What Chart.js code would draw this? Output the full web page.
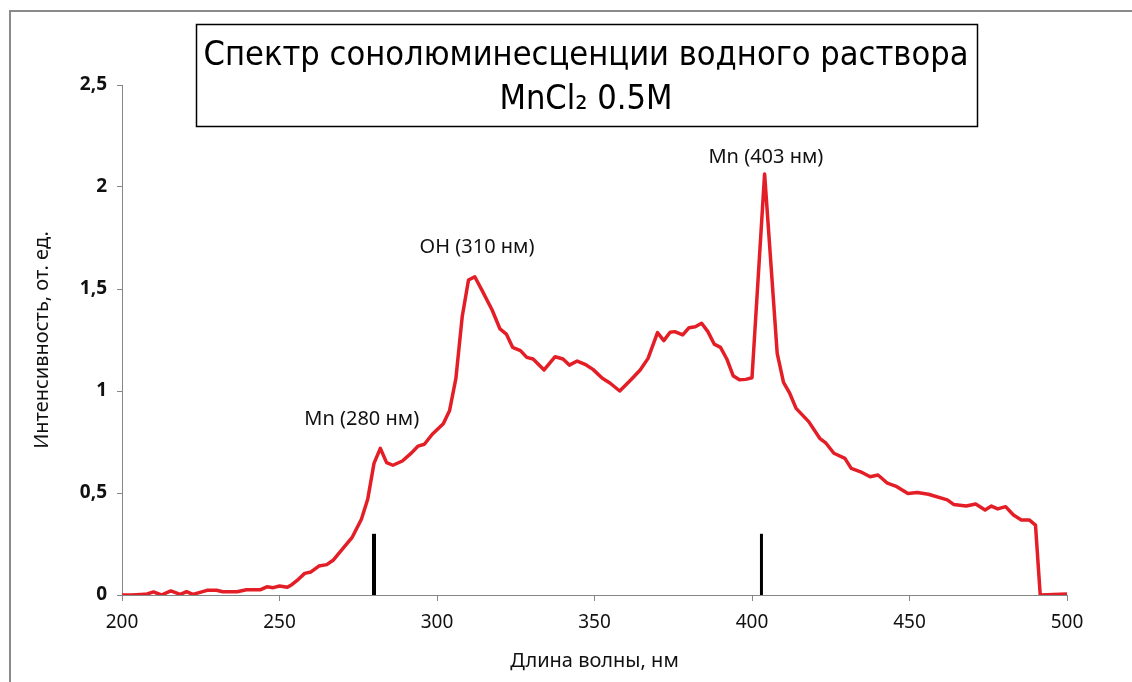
<!DOCTYPE html>
<html lang="ru">
<head>
<meta charset="utf-8">
<title>Спектр сонолюминесценции</title>
<script src="https://cdn.jsdelivr.net/npm/chart.js@4.4.1/dist/chart.umd.min.js"></script>
<style>
    html, body { margin: 0; padding: 0; background: #fff; }
    canvas { display: block; }
</style>
</head>
<body>
<canvas id="spectrum" width="1132" height="682"></canvas>
<script>
// Wavelength, nm
const wavelength = [
    200, 203, 206, 208, 210, 212.5, 215.5, 218.5, 220.5, 222.5,
    227, 230, 232, 236.5, 239.5, 244, 246, 248, 250, 252.5,
    254, 256, 258, 260, 262.5, 265, 267, 269.5, 273, 276,
    278, 280, 282, 284, 286, 289, 292, 294, 296, 298.5,
    302, 304, 306, 308, 310, 312, 314.5, 317.5, 320, 322,
    324, 326.5, 328.5, 330.5, 334, 337.5, 340, 342, 344.5, 347,
    349.5, 352.5, 355, 358, 361.5, 364.5, 367, 370, 372, 374,
    375.5, 378, 380, 382, 384, 386, 388, 390, 392, 394,
    396, 398, 400, 404, 408, 410, 412, 414, 418, 421.5,
    423.5, 426, 429.5, 431.5, 434.5, 437.5, 440, 443, 446, 449.5,
    452.5, 456, 462, 464, 468, 471, 474, 476, 478, 480.5,
    483, 485.5, 488, 490, 491.5, 500
];

// Intensity, arb. units
const intensity = [
    0, 0, 0.003, 0.005, 0.015, 0, 0.02, 0.003, 0.016, 0.003,
    0.023, 0.023, 0.016, 0.016, 0.026, 0.026, 0.04, 0.036, 0.044, 0.038,
    0.052, 0.077, 0.106, 0.113, 0.142, 0.149, 0.17, 0.216, 0.281, 0.371,
    0.469, 0.645, 0.719, 0.649, 0.636, 0.657, 0.698, 0.73, 0.739, 0.788,
    0.84, 0.905, 1.062, 1.364, 1.544, 1.56, 1.487, 1.397, 1.304, 1.279,
    1.214, 1.198, 1.165, 1.157, 1.103, 1.168, 1.157, 1.127, 1.147, 1.131,
    1.106, 1.062, 1.038, 1.0, 1.054, 1.103, 1.16, 1.286, 1.247, 1.288,
    1.291, 1.275, 1.31, 1.315, 1.332, 1.291, 1.23, 1.214, 1.157, 1.075,
    1.055, 1.057, 1.065, 2.064, 1.185, 1.042, 0.988, 0.915, 0.85, 0.768,
    0.744, 0.695, 0.67, 0.621, 0.604, 0.58, 0.588, 0.548, 0.531, 0.498,
    0.502, 0.494, 0.466, 0.444, 0.436, 0.446, 0.417, 0.436, 0.422, 0.433,
    0.392, 0.368, 0.368, 0.343, 0, 0.005
];

// Mn line markers (black bars)
const markerX = [280, 403];
const markerTop = 0.3;

// Axis ticks
const xTicks = [200, 250, 300, 350, 400, 450, 500];
const yTicks = [0, 0.5, 1, 1.5, 2, 2.5];

const titleLines = ['Спектр сонолюминесценции водного раствора', 'MnCl₂ 0.5M'];

// Peak labels, anchored in data units
const peakLabels = [
    { text: 'Mn (280 нм)', x: 276.1, y: 0.863 },
    { text: 'OH (310 нм)', x: 312.7, y: 1.706 },
    { text: 'Mn (403 нм)', x: 404.4, y: 2.147 }
];

const FONT = '"Noto Sans", "Open Sans", sans-serif';
const TEXT = '#111';
const AXIS = '#868686';

// gray frame on top and left, title box
const framePlugin = {
    id: 'frame',
    beforeDraw(chart) {
        const ctx = chart.ctx;
        ctx.save();
        ctx.fillStyle = '#fff';
        ctx.fillRect(0, 0, chart.width, chart.height);
        ctx.strokeStyle = '#8a8a8a';
        ctx.lineWidth = 2;
        ctx.beginPath();
        ctx.moveTo(10, chart.height);
        ctx.lineTo(10, 11);
        ctx.lineTo(chart.width, 11);
        ctx.stroke();
        ctx.restore();
    },
    afterDraw(chart) {
        const ctx = chart.ctx;
        ctx.save();
        ctx.strokeStyle = '#000';
        ctx.lineWidth = 1.5;
        ctx.strokeRect(196.5, 24.5, 781, 102);

        // fit first line to the box width
        const family = '"Liberation Sans Narrow", "DejaVu Sans Condensed", "Noto Sans", sans-serif';
        let size = 40;
        ctx.font = size + 'px ' + family;
        const w = ctx.measureText(titleLines[0]).width;
        size = Math.min(46, size * 765 / w);
        ctx.font = size + 'px ' + family;
        ctx.fillStyle = '#000';
        ctx.textAlign = 'center';
        ctx.textBaseline = 'middle';
        ctx.fillText(titleLines[0], 586, 56);
        ctx.fillText(titleLines[1], 586, 100);
        ctx.restore();
    }
};

const labelPlugin = {
    id: 'peakLabels',
    afterDatasetsDraw(chart) {
        const ctx = chart.ctx;
        const xs = chart.scales.x;
        const ys = chart.scales.y;
        ctx.save();
        ctx.font = '20px ' + FONT;
        ctx.fillStyle = TEXT;
        ctx.textAlign = 'center';
        ctx.textBaseline = 'middle';
        peakLabels.forEach(l => {
            ctx.fillText(l.text, xs.getPixelForValue(l.x), ys.getPixelForValue(l.y));
        });
        ctx.restore();
    }
};

const spectrumData = wavelength.map((x, i) => ({ x: x, y: intensity[i] }));

const markerSets = markerX.map((x, i) => ({
    label: 'marker ' + x,
    data: [{ x: x, y: 0 }, { x: x, y: markerTop }],
    borderColor: '#000',
    borderWidth: i === 0 ? 4 : 3,
    pointRadius: 0,
    borderCapStyle: 'butt'
}));

const ctx = document.getElementById('spectrum').getContext('2d');
new Chart(ctx, {
    type: 'line',
    data: {
        datasets: [
            ...markerSets,
            {
                label: 'Интенсивность',
                data: spectrumData,
                borderColor: '#e41e26',
                borderWidth: 3.5,
                pointRadius: 0,
                tension: 0,
                borderJoinStyle: 'round'
            }
        ]
    },
    options: {
        responsive: false,
        animation: false,
        layout: { padding: { left: 0, right: 65, top: 85, bottom: 0 } },
        plugins: {
            legend: { display: false },
            tooltip: { enabled: false },
            title: { display: false }
        },
        scales: {
            x: {
                type: 'linear',
                min: 200,
                max: 500,
                afterFit: s => { s.height = 87; },
                afterBuildTicks: s => { s.ticks = xTicks.map(v => ({ value: v })); },
                ticks: {
                    font: { family: FONT, size: 19 },
                    color: TEXT,
                    padding: 10,
                    maxRotation: 0
                },
                grid: { display: true, drawOnChartArea: false, drawTicks: true, tickLength: 6, color: AXIS },
                border: { display: true, color: AXIS, width: 1 },
                title: {
                    display: true,
                    text: 'Длина волны, нм',
                    font: { family: FONT, size: 20 },
                    color: TEXT,
                    padding: { top: 0, bottom: 9 }
                }
            },
            y: {
                min: 0,
                max: 2.5,
                afterFit: s => { s.width = 122; },
                afterBuildTicks: s => { s.ticks = yTicks.map(v => ({ value: v })); },
                ticks: {
                    font: { family: FONT, size: 19, weight: 'bold' },
                    color: TEXT,
                    padding: 10,
                    callback: v => String(v).replace('.', ',')
                },
                grid: { display: true, drawOnChartArea: false, drawTicks: true, tickLength: 5, color: AXIS },
                border: { display: true, color: AXIS, width: 1 },
                title: {
                    display: true,
                    text: 'Интенсивность, от. ед.',
                    font: { family: FONT, size: 20 },
                    color: TEXT,
                    padding: { top: 30, bottom: 0 }
                }
            }
        }
    },
    plugins: [framePlugin, labelPlugin]
});
</script>
</body>
</html>
